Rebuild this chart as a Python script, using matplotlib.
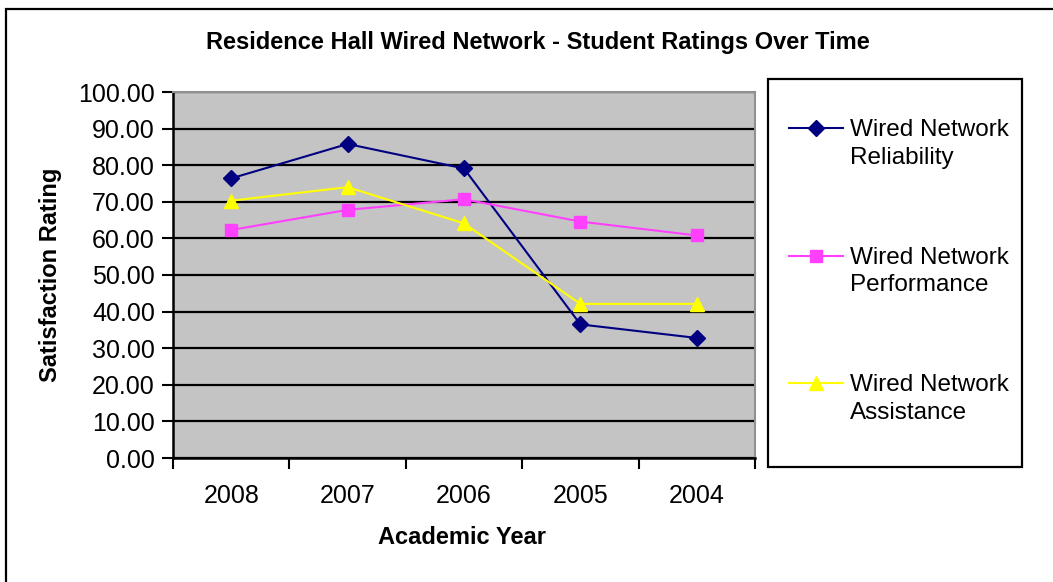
import matplotlib.pyplot as plt
from matplotlib.patches import Rectangle
from matplotlib.lines import Line2D
import numpy as np

plt.rcParams['font.family'] = ['Liberation Sans', 'DejaVu Sans']

years = ['2008', '2007', '2006', '2005', '2004']
reliability = [76.4, 85.8, 79.1, 36.5, 32.8]
performance = [62.3, 67.8, 70.7, 64.6, 60.8]
assistance = [70.3, 74.0, 64.1, 42.1, 42.1]
labels = ['Wired Network\nReliability', 'Wired Network\nPerformance', 'Wired Network\nAssistance']
colors = ['#000080', '#ff40ff', '#ffff00']
markers = ['D', 's', '^']
msizes = [8, 8, 10]

W, H = 1053, 582
fig = plt.figure(figsize=(W / 100, H / 100), dpi=100)

# outer chart border (only top/left visible in the reference)
fig.patches.append(Rectangle((6 / W, -0.2), 1.5, 1.2 - 9 / H, transform=fig.transFigure,
                             fill=False, edgecolor='black', linewidth=1.6, clip_on=False))

ax = fig.add_axes([173 / W, 1 - 458 / H, (755 - 173) / W, (458 - 92) / H])
ax.set_facecolor('#c4c4c4')

x = np.arange(len(years))
for vals, c, m, ms in zip([reliability, performance, assistance], colors, markers, msizes):
    ax.plot(x, vals, color=c, lw=1.5, marker=m, ms=ms, zorder=5)

ax.set_xlim(-0.5, len(years) - 0.5)
ax.set_ylim(0, 100)
ax.set_yticks(np.arange(0, 101, 10))
ax.set_yticklabels(['%.2f' % v for v in np.arange(0, 101, 10)], fontsize=18)
ax.yaxis.grid(True, color='black', lw=1.6)
ax.set_axisbelow(True)
ax.tick_params(axis='y', length=8, width=1.5, pad=5)

ax.set_xticks(x)
ax.set_xticklabels(years, fontsize=18)
ax.set_xticks(np.arange(-0.5, len(years), 1), minor=True)
ax.tick_params(axis='x', which='major', length=0, pad=19)
ax.tick_params(axis='x', which='minor', length=8, width=1.5)

for s in ['left', 'bottom']:
    ax.spines[s].set_linewidth(1.8)
    ax.spines[s].set_color('black')
for s in ['top', 'right']:
    ax.spines[s].set_linewidth(1.5)
    ax.spines[s].set_color('#909090')

ax.set_ylabel('Satisfaction Rating', fontsize=17, fontweight='bold')
ax.yaxis.set_label_coords(-0.19, 0.5)
ax.set_xlabel('Academic Year', fontsize=17, fontweight='bold')
ax.xaxis.set_label_coords(0.497, -0.185)

fig.text(538 / W, 1 - 42 / H, 'Residence Hall Wired Network - Student Ratings Over Time',
         ha='center', va='center', fontsize=17, fontweight='bold')

# legend box, handle sits on the first text line like the Excel legend
fig.patches.append(Rectangle((768 / W, 1 - 467 / H), (1022 - 768) / W, (467 - 79) / H,
                             transform=fig.transFigure, fill=False, edgecolor='black', lw=1.6))
for i, (lab, c, m, ms) in enumerate(zip(labels, colors, markers, msizes)):
    yy = 1 - (128 + i * 127.5) / H
    fig.add_artist(Line2D([789 / W, 816 / W, 843 / W], [yy] * 3, color=c, lw=1.5,
                          marker=m, ms=ms, markevery=[1], transform=fig.transFigure))
    fig.text(850 / W, yy + 9 / H, lab, ha='left', va='top', fontsize=17.5, linespacing=1.35)

fig.savefig('out.png', dpi=100)
